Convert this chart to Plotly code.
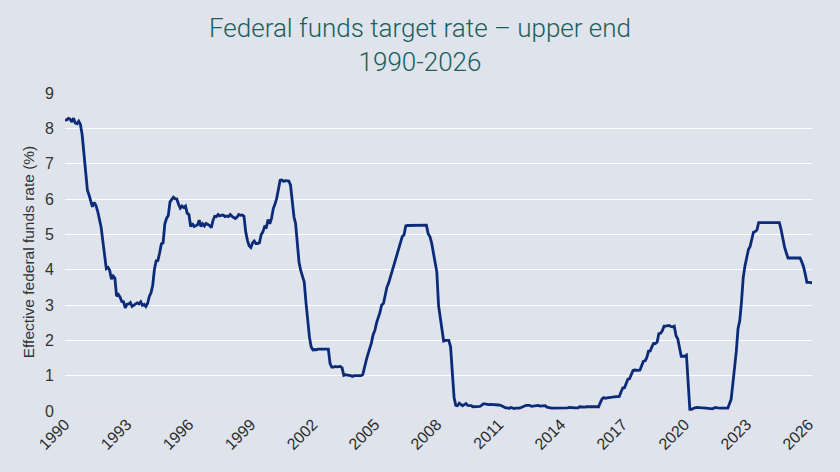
import plotly.graph_objects as go
import pandas as pd

# Monthly effective federal funds rate (%), Jan 1990 onward
rates_by_year = {
    1990: [8.23, 8.24, 8.28, 8.26, 8.18, 8.29, 8.15, 8.13, 8.20, 8.11, 7.81, 7.31],
    1991: [6.91, 6.25, 6.12, 5.91, 5.78, 5.90, 5.82, 5.66, 5.45, 5.21, 4.81, 4.43],
    1992: [4.03, 4.06, 3.98, 3.73, 3.82, 3.76, 3.25, 3.30, 3.22, 3.10, 3.09, 2.92],
    1993: [3.02, 3.03, 3.07, 2.96, 3.00, 3.04, 3.06, 3.03, 3.09, 2.99, 3.02, 2.96],
    1994: [3.05, 3.25, 3.34, 3.56, 4.01, 4.25, 4.26, 4.47, 4.73, 4.76, 5.29, 5.45],
    1995: [5.53, 5.92, 5.98, 6.05, 6.01, 6.00, 5.85, 5.74, 5.80, 5.76, 5.80, 5.60],
    1996: [5.56, 5.22, 5.31, 5.22, 5.24, 5.27, 5.40, 5.22, 5.30, 5.24, 5.31, 5.29],
    1997: [5.25, 5.19, 5.39, 5.51, 5.50, 5.56, 5.52, 5.54, 5.54, 5.50, 5.52, 5.50],
    1998: [5.56, 5.51, 5.49, 5.45, 5.49, 5.56, 5.54, 5.55, 5.51, 5.07, 4.83, 4.68],
    1999: [4.63, 4.76, 4.81, 4.74, 4.74, 4.76, 4.99, 5.07, 5.22, 5.20, 5.42, 5.30],
    2000: [5.45, 5.73, 5.85, 6.02, 6.27, 6.53, 6.54, 6.50, 6.52, 6.51, 6.51, 6.40],
    2001: [5.98, 5.49, 5.31, 4.80, 4.21, 3.97, 3.77, 3.65, 3.07, 2.49, 2.09, 1.82],
    2002: [1.73, 1.74, 1.73, 1.75, 1.75, 1.75, 1.73, 1.74, 1.75, 1.75, 1.34, 1.24],
    2003: [1.24, 1.26, 1.25, 1.26, 1.26, 1.22, 1.01, 1.03, 1.01, 1.01, 1.00, 0.98],
    2004: [1.00, 1.01, 1.00, 1.00, 1.00, 1.03, 1.26, 1.43, 1.61, 1.76, 1.93, 2.16],
    2005: [2.28, 2.50, 2.63, 2.79, 3.00, 3.04, 3.26, 3.50, 3.62, 3.78, 4.00, 4.16],
    2006: [4.29, 4.49, 4.59, 4.79, 4.94, 4.99, 5.24, 5.25, 5.25, 5.25, 5.25, 5.24],
    2007: [5.25, 5.26, 5.26, 5.25, 5.25, 5.25, 5.26, 5.02, 4.94, 4.76, 4.49, 4.24],
    2008: [3.94, 2.98, 2.61, 2.28, 1.98, 2.00, 2.01, 2.00, 1.81, 0.97, 0.39, 0.16],
    2009: [0.15, 0.22, 0.18, 0.15, 0.18, 0.21, 0.16, 0.16, 0.15, 0.12, 0.12, 0.12],
    2010: [0.11, 0.13, 0.16, 0.20, 0.20, 0.18, 0.18, 0.19, 0.19, 0.19, 0.19, 0.18],
    2011: [0.17, 0.16, 0.14, 0.10, 0.09, 0.09, 0.07, 0.10, 0.08, 0.07, 0.08, 0.07],
    2012: [0.08, 0.10, 0.13, 0.14, 0.16, 0.16, 0.16, 0.13, 0.14, 0.16, 0.16, 0.16],
    2013: [0.14, 0.15, 0.14, 0.15, 0.11, 0.09, 0.09, 0.08, 0.08, 0.09, 0.08, 0.09],
    2014: [0.07, 0.07, 0.08, 0.09, 0.09, 0.10, 0.09, 0.09, 0.09, 0.09, 0.09, 0.12],
    2015: [0.11, 0.11, 0.11, 0.12, 0.12, 0.13, 0.13, 0.14, 0.14, 0.12, 0.12, 0.24],
    2016: [0.34, 0.38, 0.36, 0.37, 0.37, 0.38, 0.39, 0.40, 0.40, 0.40, 0.41, 0.54],
    2017: [0.65, 0.66, 0.79, 0.90, 0.91, 1.04, 1.15, 1.16, 1.15, 1.15, 1.16, 1.30],
    2018: [1.41, 1.42, 1.51, 1.69, 1.70, 1.82, 1.91, 1.91, 1.95, 2.19, 2.20, 2.27],
    2019: [2.40, 2.40, 2.41, 2.42, 2.39, 2.38, 2.40, 2.13, 2.04, 1.83, 1.55, 1.55],
    2020: [1.55, 1.58, 0.65, 0.05, 0.05, 0.08, 0.09, 0.10, 0.09, 0.09, 0.09, 0.09],
    2021: [0.09, 0.08, 0.07, 0.07, 0.06, 0.08, 0.10, 0.09, 0.08, 0.08, 0.08, 0.08],
    2022: [0.08, 0.08, 0.20, 0.33, 0.77, 1.21, 1.68, 2.33, 2.56, 3.08, 3.78, 4.10],
    2023: [4.33, 4.57, 4.65, 4.83, 5.06, 5.08, 5.12, 5.33, 5.33, 5.33, 5.33, 5.33],
    2024: [5.33, 5.33, 5.33, 5.33, 5.33, 5.33, 5.33, 5.33, 5.13, 4.83, 4.64, 4.48],
    2025: [4.33, 4.33, 4.33, 4.33, 4.33, 4.33, 4.33, 4.33, 4.22, 4.09, 3.88, 3.64],
    2026: [3.64, 3.64, 3.63],
}

dates = []
rates = []
for yr, vals in rates_by_year.items():
    for m, v in enumerate(vals):
        dates.append(pd.Timestamp(year=yr, month=m + 1, day=1))
        rates.append(v)

tick_years = list(range(1990, 2027, 3))
tick_vals = [pd.Timestamp(year=y, month=1, day=1) for y in tick_years]
tick_text = [str(y) for y in tick_years]

fig = go.Figure()
fig.add_trace(go.Scatter(
    x=dates, y=rates, mode="lines",
    line=dict(color="#0b2a78", width=2.8),
    hoverinfo="skip", showlegend=False,
))

fig.update_layout(
    width=840, height=472,
    paper_bgcolor="#dee3ec", plot_bgcolor="#dee3ec",
    margin=dict(l=65, r=28, t=93, b=61),
    font=dict(family="Liberation Sans, Arial, sans-serif", color="#333333"),
    title=dict(
        text="Federal funds target rate – upper end<br>1990-2026",
        x=0.5, xanchor="center", y=0.922, yanchor="top",
        font=dict(family="Roboto, sans-serif", size=26, color="#1b5e5b", weight=300),
    ),
)
fig.update_xaxes(
    type="date",
    range=[dates[0], dates[-1]],
    tickvals=tick_vals, ticktext=tick_text,
    tickangle=-45, showgrid=False, zeroline=False,
    showline=False, ticks="",
    tickfont=dict(size=16, color="#2a2a2a"),
)
fig.update_yaxes(
    range=[0, 9], dtick=1,
    showgrid=True, gridcolor="#ffffff", gridwidth=1.3,
    zeroline=True, zerolinecolor="#e8dbe2", zerolinewidth=1,
    ticks="", ticklabelstandoff=10,
    tickfont=dict(size=16, color="#333333"),
    title=dict(text="Effective federal funds rate (%)", font=dict(size=15.5, color="#333333"), standoff=6),
)

fig.write_html("out.html")
